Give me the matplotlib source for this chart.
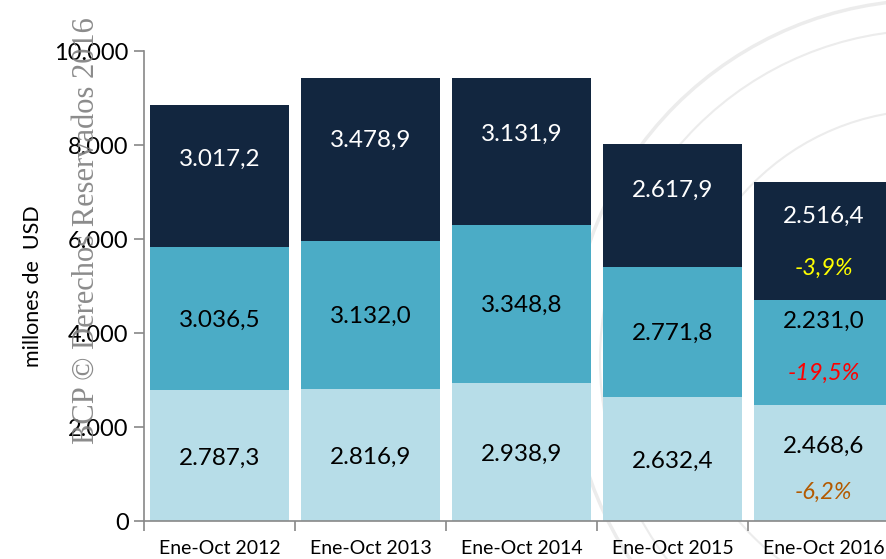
import matplotlib
matplotlib.use("Agg")
import matplotlib.pyplot as plt
from matplotlib.patches import Circle
from matplotlib.ticker import FuncFormatter, FixedLocator

categories = ["Ene-Oct 2012", "Ene-Oct 2013", "Ene-Oct 2014", "Ene-Oct 2015", "Ene-Oct 2016"]
bottom_vals = [2787.3, 2816.9, 2938.9, 2632.4, 2468.6]
middle_vals = [3036.5, 3132.0, 3348.8, 2771.8, 2231.0]
top_vals = [3017.2, 3478.9, 3131.9, 2617.9, 2516.4]
pct_labels = ["-6,2%", "-19,5%", "-3,9%"]  # last year: bottom, middle, top

c_light = "#b7dde8"
c_mid = "#4bacc6"
c_dark = "#12263f"
font = "Lato"

fig = plt.figure(figsize=(8.87, 5.59), dpi=100)

# faint seal in the background
bg = fig.add_axes([0, 0, 1, 1], zorder=-5)
bg.set_xlim(0, 887)
bg.set_ylim(559, 0)
bg.axis("off")
for r, lw in [(360, 2.5), (330, 1.5), (250, 1.5)]:
    bg.add_patch(Circle((930, 360), r, fill=False, edgecolor="#ececec", linewidth=lw))

ax = fig.add_axes([144 / 887, 38 / 559, 755 / 887, 470 / 559], zorder=1)
ax.patch.set_alpha(0)

x = list(range(len(categories)))
w = 0.92
ax.bar(x, bottom_vals, w, color=c_light, zorder=2)
ax.bar(x, middle_vals, w, bottom=bottom_vals, color=c_mid, zorder=2)
top_base = [b + m for b, m in zip(bottom_vals, middle_vals)]
ax.bar(x, top_vals, w, bottom=top_base, color=c_dark, zorder=2)

def fmt(v):
    s = f"{v:,.1f}"
    return s.replace(",", "X").replace(".", ",").replace("X", ".")

n = len(categories)
for i in x:
    last = (i == n - 1)
    segs = [(0, bottom_vals[i], "black"), (bottom_vals[i], middle_vals[i], "black"),
            (top_base[i], top_vals[i], "white")]
    for k, (b, h, col) in enumerate(segs):
        if last:
            fr = [0.64, 0.80, 0.71][k]
        else:
            fr = [0.48, 0.49, 0.62][k]
        ax.text(i, b + h * fr, fmt(h), ha="center", va="center", color=col,
                fontsize=17.5, family=font, zorder=3)
        if last:
            pfr = [0.25, 0.30, 0.27][k]
            pcol = ["#b35a00", "#ff0000", "#ffff00"][k]
            ax.text(i, b + h * pfr, pct_labels[k], ha="center", va="center",
                    color=pcol, fontsize=17, style="italic", family=font, zorder=3)

ax.set_xlim(-0.5, n - 0.5)
ax.set_ylim(0, 10000)
ax.set_yticks(range(0, 10001, 2000))
ax.yaxis.set_major_formatter(FuncFormatter(lambda v, p: f"{int(v):,}".replace(",", ".")))
ax.set_xticks(x)
ax.set_xticklabels(categories, family=font, fontsize=14)
ax.xaxis.set_minor_locator(FixedLocator([i - 0.5 for i in range(n + 1)]))
ax.tick_params(axis="x", which="major", length=0, pad=14)
ax.tick_params(axis="x", which="minor", length=7, color="#888888", width=1.2)
ax.tick_params(axis="y", length=7, color="#888888", width=1.2, labelsize=17, pad=4)
for lab in ax.get_yticklabels():
    lab.set_family(font)
for s in ["top", "right"]:
    ax.spines[s].set_visible(False)
for s in ["left", "bottom"]:
    ax.spines[s].set_color("#888888")
    ax.spines[s].set_linewidth(1.2)
ax.set_ylabel("millones de  USD", family=font, fontsize=15.5, labelpad=8)

fig.text(86 / 887, 1 - 231 / 559, "BCP © Derechos Reservados 2016", rotation=90,
         ha="center", va="center", family="Liberation Serif", fontsize=22,
         color="#7f7f7f", alpha=0.9, zorder=10)

fig.savefig("out.png", dpi=100)
